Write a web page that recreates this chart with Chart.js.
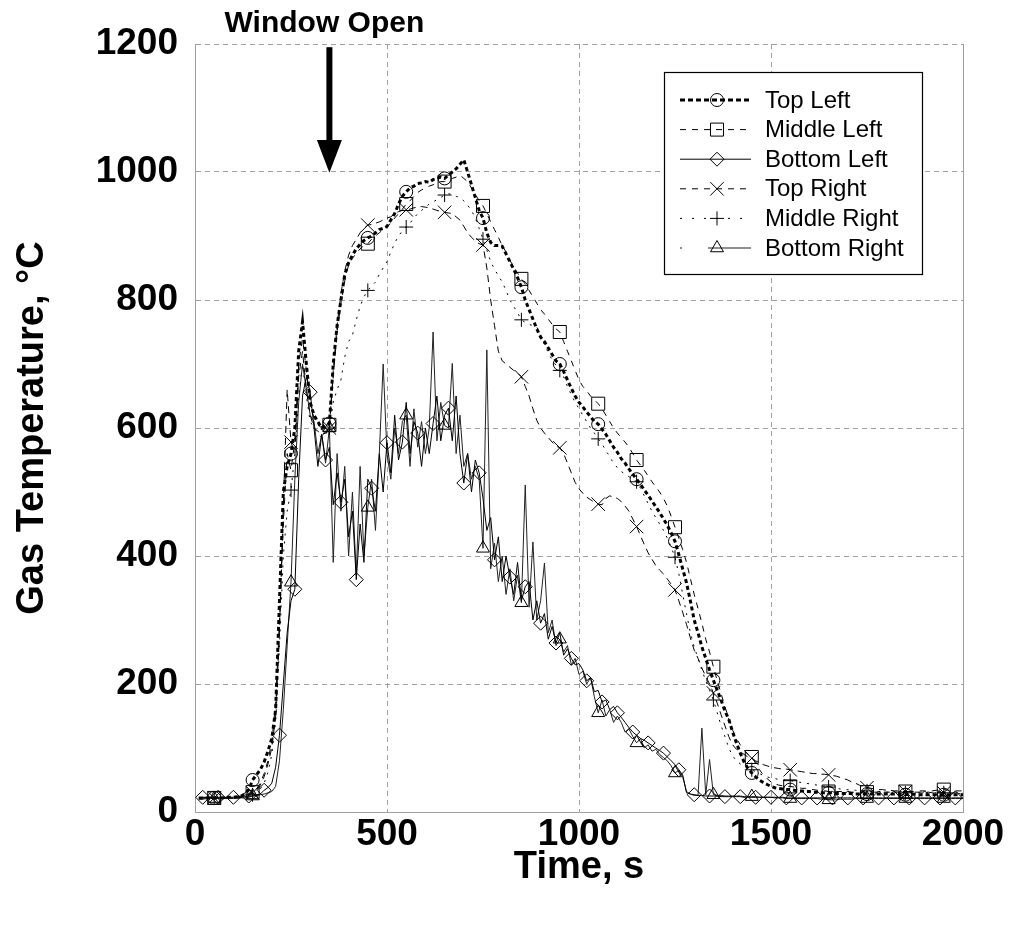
<!DOCTYPE html>
<html>
<head>
<meta charset="utf-8">
<script src="https://cdn.jsdelivr.net/npm/chart.js@4.4.1/dist/chart.umd.min.js"></script>
<style>
html,body{margin:0;padding:0;background:#fff;}
#wrap{width:1011px;height:948px;position:relative;}
</style>
</head>
<body>
<div id="wrap"><canvas id="c" width="1011" height="948"></canvas></div>
<script>
// Time, s (one row = 100 s)
const time = [
10,20,30,40,50,60,70,80,90,100,
110,120,130,140,150,160,170,180,190,200,
210,220,230,240,250,260,270,280,290,300,
310,320,330,340,350,360,370,380,390,400,
410,420,430,440,450,460,470,480,490,500,
510,520,530,540,550,560,570,580,590,600,
610,620,630,640,650,660,670,680,690,700,
710,720,730,740,750,760,770,780,790,800,
810,820,830,840,850,860,870,880,890,900,
910,920,930,940,950,960,970,980,990,1000,
1010,1020,1030,1040,1050,1060,1070,1080,1090,1100,
1110,1120,1130,1140,1150,1160,1170,1180,1190,1200,
1210,1220,1230,1240,1250,1260,1270,1280,1290,1300,
1310,1320,1330,1340,1350,1360,1370,1380,1390,1400,
1410,1420,1430,1440,1450,1460,1470,1480,1490,1500,
1510,1520,1530,1540,1550,1560,1570,1580,1590,1600,
1610,1620,1630,1640,1650,1660,1670,1680,1690,1700,
1710,1720,1730,1740,1750,1760,1770,1780,1790,1800,
1810,1820,1830,1840,1850,1860,1870,1880,1890,1900,
1910,1920,1930,1940,1950,1960,1970,1980,1990,2000
];

const topLeft = [
22,22,22,22,22,22,22,23,23,23,
24,25,28,35,50,58,66,78,95,115,
160,330,500,540,560,600,720,766,700,640,
620,610,600,605,607,700,760,800,840,858,
870,880,887,893,897,900,905,910,912,915,
925,935,950,962,969,975,978,982,983,985,
984,988,990,992,990,995,1000,1005,1012,1019,
1000,980,960,940,928,905,890,885,885,884,
872,860,848,835,820,800,785,770,755,742,
735,725,715,705,700,688,675,662,650,640,
633,625,618,610,606,598,590,580,570,562,
552,545,536,528,520,512,503,495,486,477,
468,458,448,436,423,402,380,358,330,300,
280,258,240,222,206,190,175,158,145,125,
108,92,78,68,61,55,50,46,43,40,
38,37,36,35,35,34,33,33,32,32,
31,31,30,30,30,30,29,29,29,29,
29,28,28,28,28,28,28,28,28,28,
28,28,28,27,27,28,28,27,27,27,
27,27,27,27,27,27,27,27,27,27
];

const middleLeft = [
22,22,22,22,22,22,22,22,23,23,
24,25,27,29,31,36,45,60,80,110,
170,300,450,560,534,580,700,740,690,640,
615,605,600,602,605,680,750,795,830,855,
865,873,880,885,888,895,900,905,910,915,
920,928,935,942,950,955,962,968,972,975,
978,980,983,985,985,988,990,992,995,990,
985,975,965,955,947,935,922,910,898,885,
875,862,852,842,833,825,815,805,795,785,
778,770,762,755,750,735,720,705,690,675,
665,658,650,644,638,630,620,610,600,592,
585,578,570,560,550,542,534,525,516,508,
500,490,478,462,445,428,410,390,365,340,
318,295,270,250,227,205,185,165,145,128,
115,105,97,90,86,76,66,58,52,47,
44,42,41,40,40,39,38,37,37,36,
35,34,34,33,32,32,32,32,32,32,
31,31,31,31,31,31,31,31,31,31,
31,31,31,32,32,32,32,32,33,33,
33,33,34,34,35,34,34,33,33,33
];

const bottomLeft = [
22,23,23,23,23,23,23,23,23,23,
23,23,24,25,25,26,28,34,38,45,
70,120,200,280,330,348,520,650,680,656,
600,540,590,550,570,480,530,484,520,430,
470,363,450,390,520,506,470,560,500,577,
530,620,550,578,640,560,610,592,540,600,
560,607,650,580,620,631,580,650,560,514,
560,500,550,530,490,440,460,394,430,360,
400,367,340,390,330,352,360,300,330,295,
310,270,290,264,280,245,255,240,230,232,
222,205,210,188,190,172,175,160,165,155,
148,140,132,125,120,115,112,108,104,100,
96,92,86,80,74,66,58,30,28,27,
26,26,25,25,25,25,24,24,24,24,
24,24,23,23,23,23,23,23,23,23,
23,23,23,22,22,22,22,22,22,22,
22,22,22,22,22,22,22,22,22,22,
22,22,22,22,22,22,22,22,22,22,
22,22,22,22,22,22,22,22,22,22,
22,22,22,22,22,22,22,22,22,22
];

const topRight = [
22,22,22,22,22,22,22,22,22,23,
23,24,25,27,30,35,42,55,75,100,
150,280,480,660,578,560,680,720,660,620,
600,595,590,592,600,690,760,810,845,870,
885,895,905,912,917,918,920,922,925,928,
930,935,938,940,941,942,944,945,946,945,
944,942,940,938,937,936,935,930,925,915,
905,898,892,888,886,850,800,760,720,705,
700,695,690,686,680,665,650,630,612,600,
592,585,578,572,569,560,545,530,515,505,
498,492,488,484,481,480,490,494,492,490,
485,478,470,458,446,432,418,405,395,385,
378,372,364,356,347,330,312,293,272,253,
240,225,212,200,186,170,152,135,118,105,
98,94,90,86,84,80,77,74,72,70,
69,68,67,67,66,65,64,63,62,61,
60,60,59,59,58,57,56,54,52,50,
47,45,42,40,38,37,36,35,35,34,
34,33,33,32,32,32,31,31,31,31,
31,30,30,30,30,30,30,30,30,30
];

const middleRight = [
22,22,22,22,22,22,22,22,22,22,
23,23,24,25,27,30,36,45,62,90,
140,260,400,470,503,560,650,700,650,610,
600,592,585,590,600,640,660,675,711,735,
745,769,790,805,815,822,828,840,850,860,
875,889,900,908,914,920,928,935,940,945,
950,953,957,960,964,966,965,962,960,955,
948,940,928,912,895,878,860,848,838,828,
815,800,790,780,769,765,762,760,758,745,
730,718,706,698,690,680,665,652,640,630,
620,610,600,592,583,575,565,555,545,538,
532,528,524,520,516,506,494,482,470,460,
450,440,428,414,398,372,340,310,280,258,
240,222,205,190,175,155,135,118,100,88,
80,75,71,68,66,63,60,57,55,53,
52,51,50,50,49,48,47,46,45,44,
43,42,41,40,39,38,37,36,35,35,
34,34,33,33,33,32,32,32,32,31,
31,31,31,31,30,30,30,30,30,30,
30,30,30,30,30,30,29,29,29,29
];

const bottomRight = [
20,20,21,21,21,21,21,21,21,21,
21,22,22,23,25,26,27,28,30,32,
40,80,160,260,359,520,640,700,660,620,
610,560,590,545,600,390,560,470,540,400,
500,370,540,400,476,520,440,560,700,560,
520,600,560,610,620,540,630,570,610,560,
600,750,580,640,604,600,701,560,620,540,
560,520,540,520,412,722,380,420,360,400,
340,380,330,370,327,511,320,422,300,330,
389,280,300,260,270,250,260,230,240,215,
220,200,210,180,155,175,150,160,140,150,
140,125,130,118,108,115,100,105,95,98,
90,85,80,72,61,65,55,32,28,26,
26,131,27,82,27,26,26,25,25,25,
25,25,24,24,24,24,23,23,23,23,
22,22,22,21,21,21,21,21,21,21,
21,21,20,20,19,19,19,20,20,20,
20,21,21,21,21,21,21,21,21,21,
21,21,21,21,21,21,21,21,21,21,
21,21,21,21,21,21,21,21,21,21
];

const seriesNames = ['Top Left','Middle Left','Bottom Left','Top Right','Middle Right','Bottom Right'];
const xTicks = [0, 500, 1000, 1500, 2000];
const yTicks = [0, 200, 400, 600, 800, 1000, 1200];
const annotationText = 'Window Open';
const annotationTime = 350;

const FONT = "'Liberation Sans', Arial, sans-serif";

function mk(values){ return values.map((v,i)=>({x: time[i], y: v})); }

const styles = [
  {style:'circle',   r:6.5, dash:[4,3], width:3, color:'#000', legendDash:[5,3], every:100, off:50},
  {style:'rect',     r:9.2, dash:[6,6], width:1, color:'#000', legendDash:[6,6], every:100, off:50},
  {style:'rectRot',  r:7,   dash:[],    width:1, color:'#000', legendDash:[], every:40, off:20},
  {style:'crossRot', r:9.5, dash:[7,5], width:1, color:'#000', legendDash:[6,6], every:100, off:50},
  {style:'cross',    r:7,   dash:[2,6], width:1, color:'#000', legendDash:[2,10], every:100, off:50},
  {style:'triangle', r:7.5, dash:[],    width:1, color:'#222', legendDash:[2,26,80], every:100, off:50}
];
const valueSets = [topLeft, middleLeft, bottomLeft, topRight, middleRight, bottomRight];

const datasets = valueSets.map((vals, k) => {
  const s = styles[k];
  return {
    label: seriesNames[k],
    data: mk(vals),
    borderColor: s.color,
    borderWidth: s.width,
    borderDash: s.dash,
    backgroundColor: 'rgba(0,0,0,0)',
    pointStyle: s.style,
    pointBorderColor: '#000',
    pointBackgroundColor: 'rgba(0,0,0,0)',
    pointBorderWidth: 1,
    pointRadius: (ctx) => {
      const t = time[ctx.dataIndex];
      return (t % s.every === s.off) ? s.r : 0;
    },
    pointHoverRadius: 0,
    tension: 0,
    fill: false
  };
});

function drawMarker(ctx, style, r, x, y){
  ctx.beginPath();
  if (style === 'circle') { ctx.arc(x, y, r, 0, Math.PI*2); }
  else if (style === 'rect') { const h = r*Math.SQRT1_2; ctx.rect(x-h, y-h, 2*h, 2*h); }
  else if (style === 'rectRot') { ctx.moveTo(x-r,y); ctx.lineTo(x,y-r); ctx.lineTo(x+r,y); ctx.lineTo(x,y+r); ctx.closePath(); }
  else if (style === 'crossRot') { const h=r*Math.SQRT1_2; ctx.moveTo(x-h,y-h); ctx.lineTo(x+h,y+h); ctx.moveTo(x+h,y-h); ctx.lineTo(x-h,y+h); }
  else if (style === 'cross') { ctx.moveTo(x-r,y); ctx.lineTo(x+r,y); ctx.moveTo(x,y-r); ctx.lineTo(x,y+r); }
  else if (style === 'triangle') { ctx.moveTo(x, y-r); ctx.lineTo(x+r*0.866, y+r/2); ctx.lineTo(x-r*0.866, y+r/2); ctx.closePath(); }
  ctx.stroke();
}

const extras = {
  id: 'extras',
  afterDraw(chart){
    const ctx = chart.ctx;
    const xs = chart.scales.x, ys = chart.scales.y;
    const ca = chart.chartArea;
    ctx.save();
    // right frame line
    ctx.strokeStyle = '#a0a0a0'; ctx.lineWidth = 1; ctx.setLineDash([]);
    ctx.beginPath(); ctx.moveTo(Math.round(ca.right)+0.5, ca.top); ctx.lineTo(Math.round(ca.right)+0.5, ca.bottom); ctx.stroke();

    // Window open arrow
    const ax = xs.getPixelForValue(annotationTime);
    const yTop = ys.getPixelForValue(1195);
    const yHead = ys.getPixelForValue(1050);
    const yTip = ys.getPixelForValue(999);
    ctx.fillStyle = '#000';
    ctx.fillRect(ax-3, yTop, 6, yHead - yTop + 1);
    ctx.beginPath(); ctx.moveTo(ax-12.5, yHead); ctx.lineTo(ax+12.5, yHead); ctx.lineTo(ax, yTip); ctx.closePath(); ctx.fill();
    ctx.font = 'bold 30px ' + FONT;
    ctx.textAlign = 'center'; ctx.textBaseline = 'middle';
    ctx.fillText(annotationText, ax - 5, 24);

    // Legend
    const lx = 664, ly = 72, lw = 258, lh = 202;
    ctx.fillStyle = '#fff'; ctx.fillRect(lx, ly, lw, lh);
    ctx.strokeStyle = '#000'; ctx.lineWidth = 1.2;
    ctx.strokeRect(lx+0.5, ly+0.5, lw, lh);
    ctx.font = '24px ' + FONT;
    ctx.textAlign = 'left'; ctx.textBaseline = 'middle';
    seriesNames.forEach((name, k) => {
      const s = styles[k];
      const y = 100 + k*29.6;
      ctx.save();
      ctx.strokeStyle = s.color; ctx.lineWidth = s.width;
      ctx.setLineDash(s.legendDash);
      ctx.beginPath(); ctx.moveTo(680, y); ctx.lineTo(751, y); ctx.stroke();
      ctx.restore();
      ctx.save();
      ctx.strokeStyle = '#000'; ctx.lineWidth = 1; ctx.setLineDash([]);
      drawMarker(ctx, s.style, s.r, 717, y);
      ctx.restore();
      ctx.fillStyle = '#000';
      ctx.fillText(name, 765, y + 1);
    });
    ctx.restore();
  }
};

const tickFont = {family: FONT, size: 37, weight: 'bold'};
const titleFont = {family: FONT, size: 38, weight: 'bold'};

new Chart(document.getElementById('c'), {
  type: 'line',
  data: { datasets },
  options: {
    responsive: false,
    animation: false,
    devicePixelRatio: 1,
    layout: { padding: { top: 44, right: 48, left: 0, bottom: 0 } },
    plugins: { legend: { display: false }, tooltip: { enabled: false } },
    scales: {
      x: {
        type: 'linear', min: xTicks[0], max: xTicks[xTicks.length-1],
        afterBuildTicks(scale){ scale.ticks = xTicks.map(v => ({value: v})); },
        ticks: { font: tickFont, color: '#000', padding: 1, maxRotation: 0, callback: v => String(v) },
        grid: { color: '#a0a0a0', lineWidth: 1, drawTicks: false },
        border: { display: true, color: '#a0a0a0', width: 1, dash: [5,4] },
        title: { display: true, text: 'Time, s', font: titleFont, color: '#000', padding: {top: 0, bottom: 58} },
        afterFit(scale){ scale.height = 136; }
      },
      y: {
        type: 'linear', min: yTicks[0], max: yTicks[yTicks.length-1],
        afterBuildTicks(scale){ scale.ticks = yTicks.map(v => ({value: v})); },
        ticks: { font: tickFont, color: '#000', padding: 17, callback: v => String(v) },
        grid: { color: '#a0a0a0', lineWidth: 1, drawTicks: false },
        border: { display: true, color: '#a0a0a0', width: 1, dash: [5,4] },
        title: { display: true, text: 'Gas Temperature, °C', font: titleFont, color: '#000', padding: {top: 10, bottom: 0} },
        afterFit(scale){ scale.width = 195; }
      }
    }
  },
  plugins: [extras]
});
</script>
</body>
</html>
